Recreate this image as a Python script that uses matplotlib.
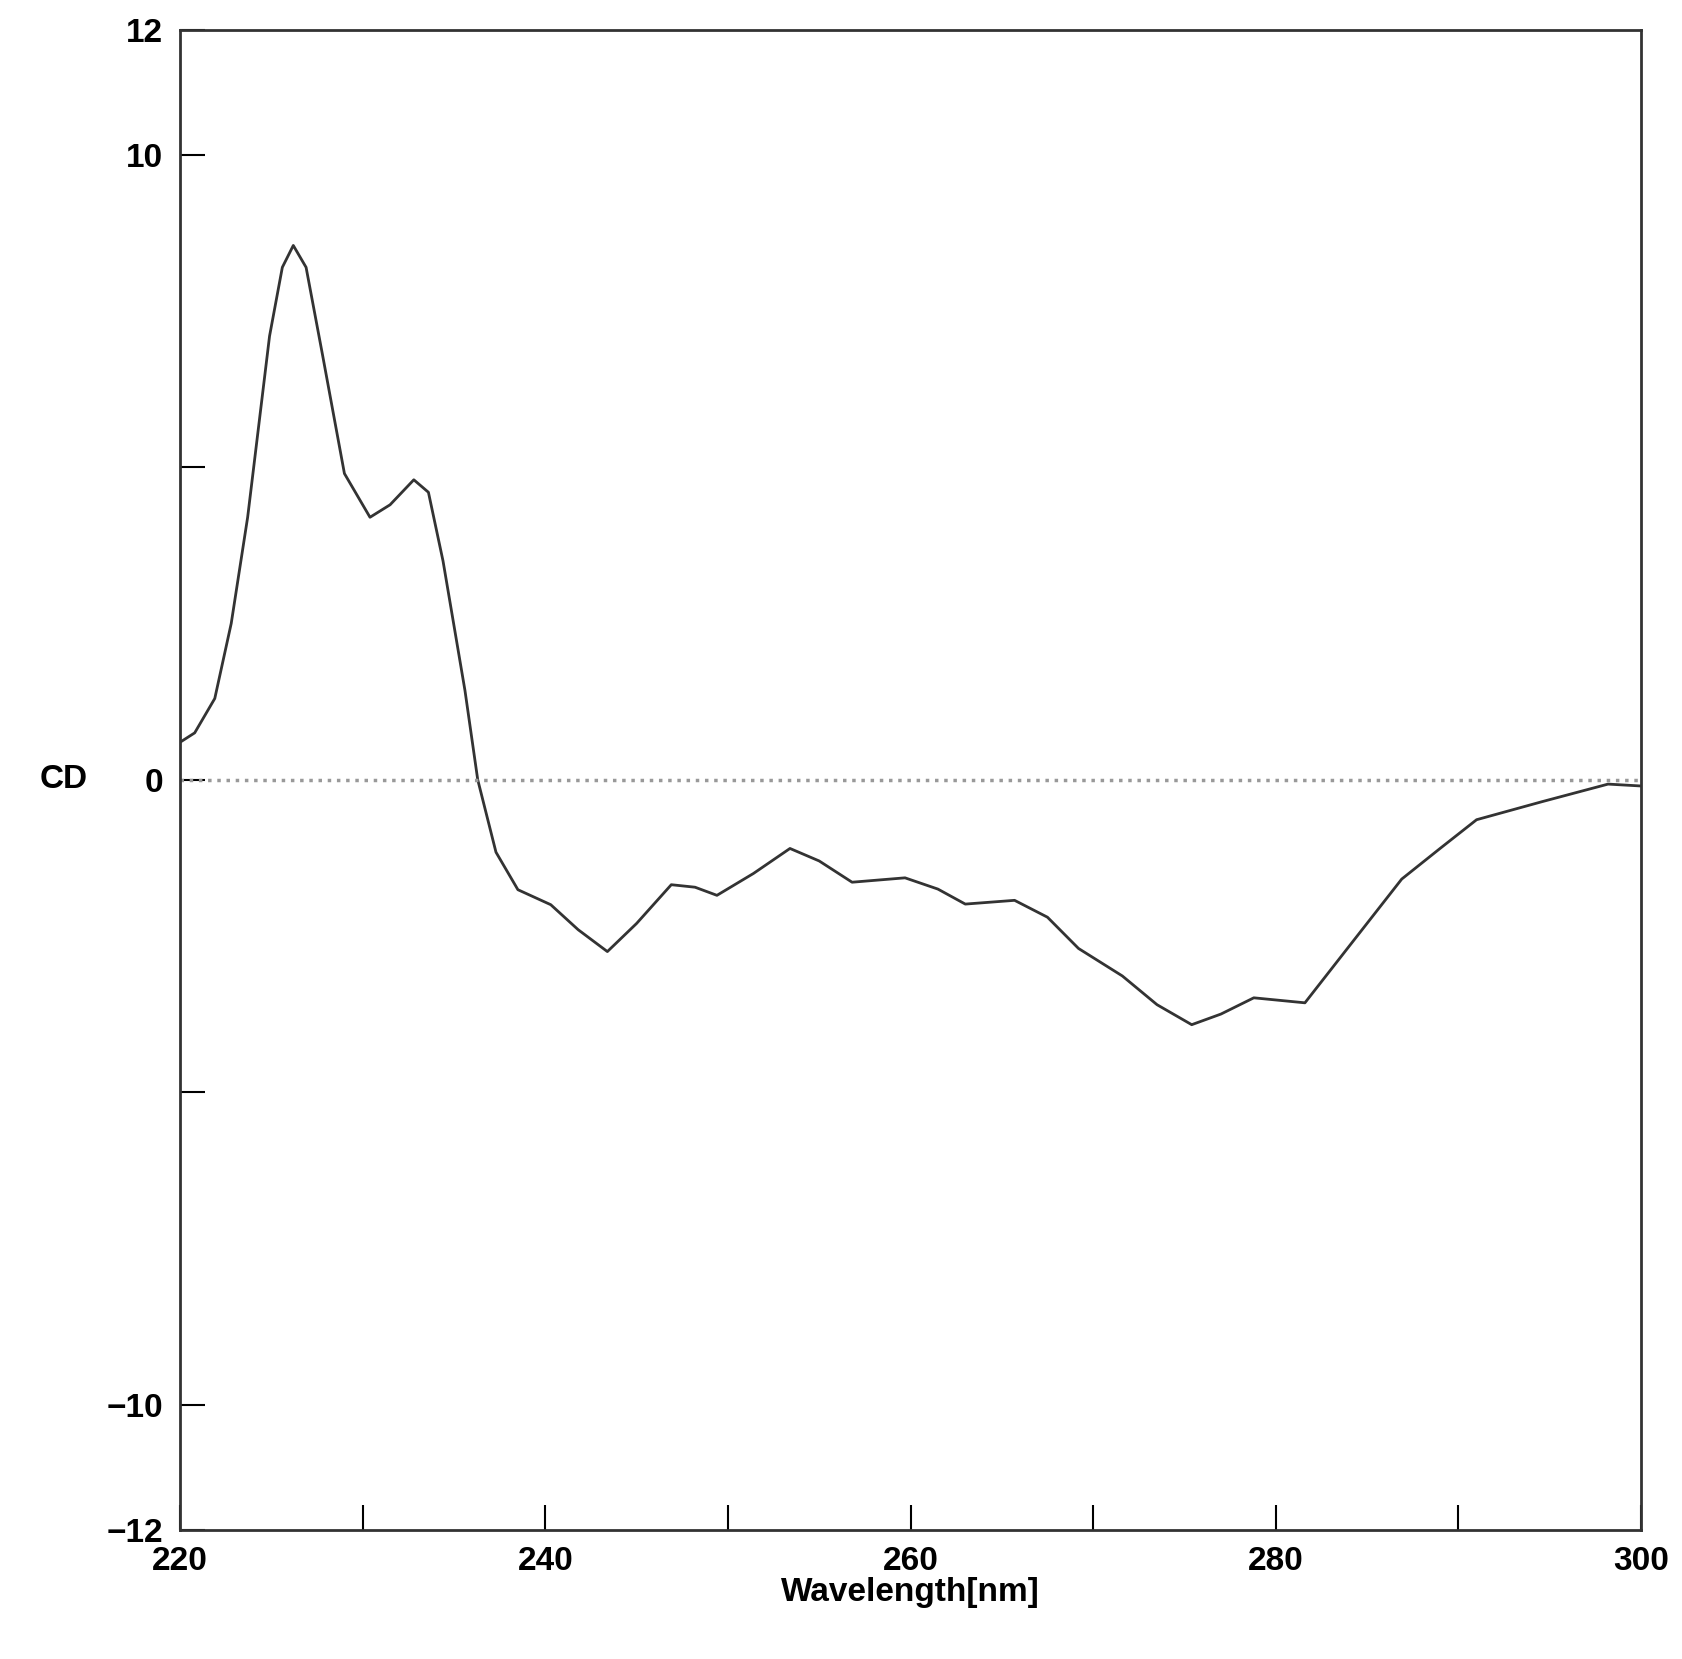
import matplotlib
matplotlib.use("Agg")
import matplotlib.pyplot as plt
from matplotlib.ticker import MultipleLocator

wavelength = [220, 220.8, 221.9, 222.8, 223.7, 224.9, 225.6, 226.2, 226.9, 227.8, 229.0, 230.4,
              231.5, 232.8, 233.6, 234.4, 235.6, 236.3, 237.3, 238.5, 240.3, 241.8, 243.4, 245.0,
              246.9, 248.2, 249.4, 251.4, 253.4, 255.0, 256.8, 259.7, 261.5, 263.0, 265.7,
              267.5, 269.2, 271.6, 273.5, 275.4, 277.0, 278.8, 281.6, 283.9, 286.9, 289.0,
              291.0, 294.6, 298.2, 300]
cd = [0.6, 0.75, 1.3, 2.5, 4.2, 7.1, 8.2, 8.55, 8.2, 6.8, 4.9, 4.2,
      4.4, 4.8, 4.6, 3.5, 1.43, 0.0, -1.16, -1.76, -2.0, -2.4, -2.75, -2.3,
      -1.68, -1.72, -1.85, -1.5, -1.1, -1.3, -1.64, -1.57, -1.75, -1.99, -1.93,
      -2.2, -2.7, -3.14, -3.6, -3.92, -3.75, -3.49, -3.57, -2.71, -1.59, -1.1,
      -0.64, -0.35, -0.07, -0.1]

fig = plt.figure(figsize=(16.83, 16.59), dpi=100)
ax = fig.add_axes([0.107, 0.078, 0.868, 0.904])
ax.plot(wavelength, cd, color="#333333", lw=2)
ax.axhline(0, color="#999999", lw=2.5, ls=":")
ax.set_xlim(220, 300)
ax.set_ylim(-12, 12)
ax.set_xticks([220, 240, 260, 280, 300])
ax.xaxis.set_minor_locator(MultipleLocator(10))
ax.set_yticks([-12, -10, 0, 10, 12])
ax.set_yticks([-5, 5], minor=True)
ax.tick_params(which="both", direction="in", length=18, width=1.5, labelsize=24, pad=12)
for lab in ax.get_xticklabels() + ax.get_yticklabels():
    lab.set_fontfamily("Liberation Sans")
    lab.set_fontweight("bold")
for s in ax.spines.values():
    s.set_linewidth(2)
    s.set_color("#333333")
ax.set_xlabel("Wavelength[nm]", fontsize=24, fontfamily="Liberation Sans", fontweight="bold", labelpad=0)
ax.text(-0.08, 0.5, "CD", transform=ax.transAxes, fontsize=24, fontfamily="Liberation Sans",
        fontweight="bold", ha="center", va="center")
fig.savefig("out.png", dpi=100)
